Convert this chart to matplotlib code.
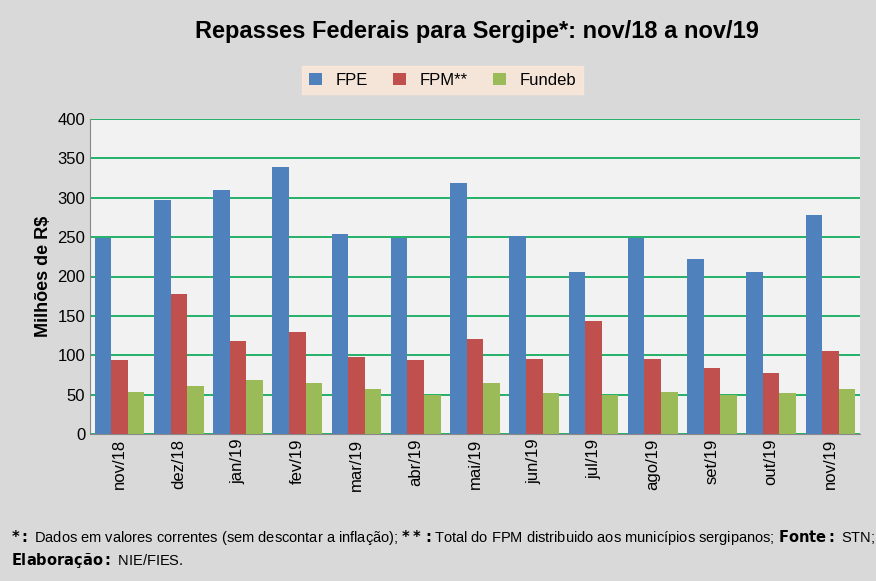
import matplotlib
matplotlib.use("Agg")
import matplotlib.pyplot as plt
import numpy as np

months = ["nov/18","dez/18","jan/19","fev/19","mar/19","abr/19","mai/19","jun/19","jul/19","ago/19","set/19","out/19","nov/19"]
fpe = [249,297,310,339,254,249,319,251,206,249,222,206,278]
fpm = [94,178,118,129,98,94,121,95,143,95,84,77,105]
fundeb = [53,61,69,65,57,50,65,52,50,53,50,52,57]

plt.rcParams['font.family'] = ['Liberation Sans', 'DejaVu Sans']
fig = plt.figure(figsize=(8.76,5.81), dpi=100, facecolor='#d9d9d9')
ax = fig.add_axes([90/876, 1-434/581, 770/876, 315/581])
ax.set_facecolor('#f2f2f2')
x = np.arange(len(months))
w = 0.28
ax.bar(x-w, fpe, w, color='#4f81bd', label='FPE', zorder=3)
ax.bar(x, fpm, w, color='#c0504d', label='FPM**', zorder=3)
ax.bar(x+w, fundeb, w, color='#9bbb59', label='Fundeb', zorder=3)
ax.set_xlim(-0.5, len(months)-0.5)
ax.set_ylim(0, 400)
ax.set_yticks(range(0,401,50))
ax.yaxis.grid(True, color='#00a650', lw=1.2, zorder=0)
ax.set_xticks(x)
ax.set_xticklabels(months, rotation=90, fontsize=12)
ax.tick_params(axis='y', labelsize=12, length=0)
ax.tick_params(axis='x', length=0)
for s in ['top','right']:
    ax.spines[s].set_visible(False)
ax.spines['left'].set_color('#888888')
ax.spines['bottom'].set_color('#888888')
ax.set_ylabel('Milhões de R$', fontsize=13, fontweight='bold')
fig.text(0.545, 0.945, 'Repasses Federais para Sergipe*: nov/18 a nov/19', ha='center', va='center', fontsize=17, fontweight='bold')
leg = fig.legend(loc='center', bbox_to_anchor=(0.505, 0.862), ncol=3, fontsize=12, frameon=True, fancybox=False,
                 handlelength=0.8, handleheight=0.8, columnspacing=1.5)
leg.get_frame().set_facecolor('#fde9d9')
leg.get_frame().set_edgecolor('#fde9d9')
fig.text(0.012, 0.075, r'$\mathbf{*:}$ Dados em valores correntes (sem descontar a inflação); $\mathbf{**:}$Total do FPM distribuido aos municípios sergipanos; $\mathbf{Fonte:}$ STN;', fontsize=10.5, va='center')
fig.text(0.012, 0.035, r'$\mathbf{Elaboração:}$ NIE/FIES.', fontsize=10.5, va='center')
fig.savefig('out.png', dpi=100, facecolor=fig.get_facecolor())
